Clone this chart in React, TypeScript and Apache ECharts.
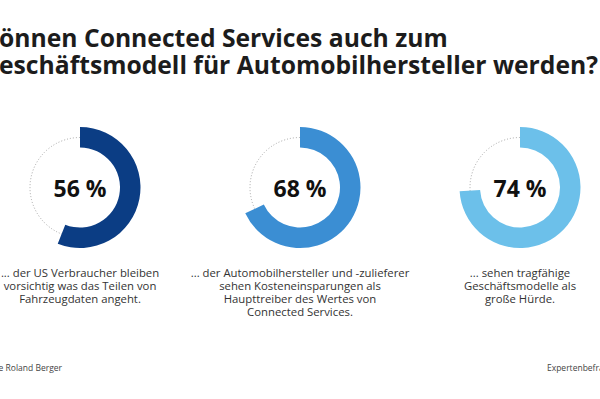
import React, { useEffect, useRef } from "react";
import * as echarts from "echarts";

const titleLines = [
  "Können Connected Services auch zum",
  "Geschäftsmodell für Automobilhersteller werden?",
];
const percentValues = [56, 68, 74];
const ringColors = ["#0b3d84", "#3b8ed3", "#6cc0ea"];
const captions = [
  ["... der US Verbraucher bleiben", "vorsichtig was das Teilen von", "Fahrzeugdaten angeht."],
  [
    "... der Automobilhersteller und -zulieferer",
    "sehen Kosteneinsparungen als",
    "Haupttreiber des Wertes von",
    "Connected Services.",
  ],
  ["... sehen tragfähige", "Geschäftsmodelle als", "große Hürde."],
];
const sourceText = "Quelle Roland Berger";
const noteText = "Expertenbefragung";

const FONT = "'Open Sans', sans-serif";
const centersX = [80, 300, 520];
const centerY = 187.5;

function measure(text: string, weight: string, size: number): number {
  const c = document.createElement("canvas");
  const ctx = c.getContext("2d");
  if (!ctx) return text.length * size * 0.55;
  ctx.font = `${weight} ${size}px ${FONT}`;
  return ctx.measureText(text).width;
}

export default function App() {
  const ref = useRef<HTMLDivElement>(null);
  useEffect(() => {
    if (!ref.current) return;
    const chart = echarts.init(ref.current, null, { renderer: "svg" });

    const w1 = measure(titleLines[0].slice(1), "bold", 100);
    const w2 = measure(titleLines[1].slice(1), "bold", 100);
    let titleSize = ((452 / w1) * 100 + (595 / w2) * 100) / 2;
    titleSize = Math.max(18, Math.min(28, titleSize));
    const k1 = measure(titleLines[0].charAt(0), "bold", titleSize);
    const k2 = measure(titleLines[1].charAt(0), "bold", titleSize);
    const wc = measure(captions[1][0], "normal", 100);
    let capSize = (219 / wc) * 100;
    capSize = Math.max(9, Math.min(13, capSize));

    const series: any[] = percentValues.map((v, i) => ({
      type: "pie",
      center: [centersX[i], centerY],
      radius: [40, 60.5],
      startAngle: 90,
      clockwise: true,
      silent: true,
      z: 3,
      label: { show: false },
      labelLine: { show: false },
      data: [
        {
          value: v,
          itemStyle: { color: ringColors[i] },
          label: {
            show: true,
            position: "center",
            formatter: "{c} %",
            fontFamily: FONT,
            fontWeight: "bold",
            fontSize: 23,
            color: "#111111",
          },
        },
        { value: 100 - v, itemStyle: { color: "rgba(0,0,0,0)" }, label: { show: false } },
      ],
    }));

    const graphics: any[] = [];
    centersX.forEach((cx) => {
      graphics.push({
        type: "circle",
        z: 1,
        shape: { cx, cy: centerY, r: 50 },
        style: { fill: "none", stroke: "#a5a5a5", lineWidth: 1, lineDash: [1, 2] },
      });
    });
    graphics.push({
      type: "text",
      x: -k1 - 1,
      y: 47 - 0.37 * titleSize,
      style: {
        text: titleLines[0],
        font: `bold ${titleSize}px ${FONT}`,
        fill: "#1c1c1c",
        textAlign: "left",
        textVerticalAlign: "middle",
      },
    });
    graphics.push({
      type: "text",
      x: -k2 - 1,
      y: 74 - 0.37 * titleSize,
      style: {
        text: titleLines[1],
        font: `bold ${titleSize}px ${FONT}`,
        fill: "#1c1c1c",
        textAlign: "left",
        textVerticalAlign: "middle",
      },
    });
    captions.forEach((lines, i) => {
      graphics.push({
        type: "text",
        x: centersX[i],
        y: 266,
        style: {
          text: lines.join("\n"),
          font: `${capSize}px ${FONT}`,
          lineHeight: 13,
          fill: "#333333",
          textAlign: "center",
          textVerticalAlign: "top",
        },
      });
    });
    graphics.push({
      type: "text",
      x: 62,
      y: 367,
      style: {
        text: sourceText,
        font: `8.5px ${FONT}`,
        fill: "#444444",
        textAlign: "right",
        textVerticalAlign: "middle",
      },
    });
    graphics.push({
      type: "text",
      x: 547,
      y: 367,
      style: {
        text: noteText,
        font: `8.5px ${FONT}`,
        fill: "#444444",
        textAlign: "left",
        textVerticalAlign: "middle",
      },
    });

    chart.setOption({
      animation: false,
      backgroundColor: "#ffffff",
      series,
      graphic: graphics,
    });
    return () => chart.dispose();
  }, []);
  return (
    <div
      ref={ref}
      style={{ position: "fixed", left: 0, top: 0, width: 600, height: 399 }}
    />
  );
}
